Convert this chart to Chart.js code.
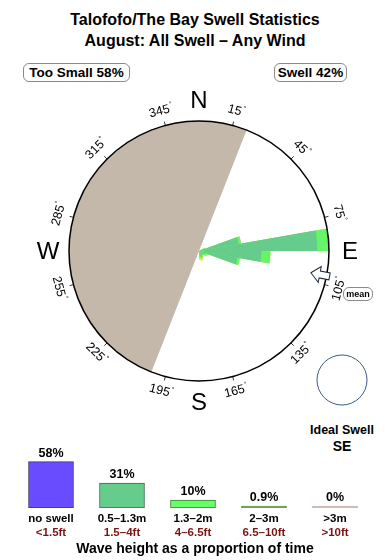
<!DOCTYPE html>
<html>
<head>
<meta charset="utf-8">
<script src="https://cdn.jsdelivr.net/npm/chart.js@4"></script>
<style>
  body { margin: 0; background: #fff; font-family: "Liberation Sans", Arial, sans-serif; }
  .page { position: relative; width: 390px; height: 560px; overflow: hidden; }
  .abs { position: absolute; }
  .title { left: 0; top: 9px; width: 390px; text-align: center; font-weight: bold; font-size: 16px; line-height: 21px; }
  .pill { border: 1px solid #8a8a8a; border-radius: 6px; font-weight: bold; font-size: 13.5px; line-height: 17px; text-align: center; }
  .small { font-weight: bold; text-align: center; }
  canvas { position: absolute; left: 0; }
</style>
</head>
<body>
<div class="page">
  <div class="abs title">Talofofo/The Bay Swell Statistics<br>August: All Swell – Any Wind</div>
  <div class="abs pill" style="left:23px; top:63px; width:105px;">Too Small 58%</div>
  <div class="abs pill" style="left:274px; top:63px; width:71px;">Swell 42%</div>
  <canvas id="rose" width="390" height="340" style="top:81px;"></canvas>
  <div class="abs pill" style="left:343px; top:287px; width:28px; font-size:9px; line-height:12px;">mean</div>
  <div class="abs small" style="left:295px; top:423px; width:94px; font-size:12.5px;">Ideal Swell</div>
  <div class="abs small" style="left:295px; top:438px; width:94px; font-size:14px;">SE</div>
  <canvas id="bands" width="390" height="120" style="top:440px;"></canvas>
  <div class="abs small" style="left:0; top:540px; width:390px; font-size:14px;">Wave height as a proportion of time</div>
</div>
<script>
// Direction bins (10 degree sectors, starting at north)
const directionBins = Array.from({ length: 36 }, (_, i) => (i * 10) + '°');

// Share of each sector per wave height band (fraction of largest sector)
const swell05to13 = [0, 0, 0, 0, 0, 0, 0.03, 0.31, 0.91, 0.48, 0.30, 0.05, 0.04, 0.03, 0.04, 0.05, 0.04, 0.03,
                     0, 0, 0, 0, 0, 0, 0, 0, 0, 0, 0, 0, 0, 0, 0, 0, 0, 0];
const swell13to2  = [0, 0, 0, 0, 0, 0, 0.02, 0.02, 0.09, 0.07, 0.02, 0.02, 0.02, 0.01, 0.01, 0.01, 0.02, 0.02,
                     0, 0, 0, 0, 0, 0, 0, 0, 0, 0, 0, 0, 0, 0, 0, 0, 0, 0];
const swell2to3   = [0, 0, 0, 0, 0, 0, 0, 0, 0, 0, 0, 0.01, 0.01, 0.01, 0.01, 0.01, 0.02, 0.02,
                     0, 0, 0, 0, 0, 0, 0, 0, 0, 0, 0, 0, 0, 0, 0, 0, 0, 0];

// "Too small" half of the rose (bearings)
const tooSmallFrom = 201.5;
const tooSmallTo = 21.5;
const meanDirection = 101;
const tickBearings = [15, 45, 75, 105, 135, 165, 195, 225, 255, 285, 315, 345];
const compassPoints = ['N', 'E', 'S', 'W'];

// Wave height legend
const heightBands = ['no swell', '0.5–1.3m', '1.3–2m', '2–3m', '>3m'];
const heightBandsFt = ['<1.5ft', '1.5–4ft', '4–6.5ft', '6.5–10ft', '>10ft'];
const bandShares = [58, 31, 10, 0.9, 0];

const FONT = '"Liberation Sans", Arial, sans-serif';
const ROSE_TOP = 81;

// stacked radii: inner band first
const ring1 = swell05to13.slice();
const ring2 = ring1.map((v, i) => v + swell13to2[i]);
const ring3 = ring2.map((v, i) => v + swell2to3[i]);
const wedgeAngles = [tooSmallTo, tooSmallFrom - tooSmallTo, 360 - tooSmallFrom];

const compassPlugin = {
    id: 'compass',
    afterDatasetsDraw(chart) {
        const ctx = chart.ctx;
        const s = chart.scales.r;
        const cx = s.xCenter, cy = s.yCenter, R = s.drawingArea;
        const pt = (b, rad) => {
            const a = b * Math.PI / 180;
            return [cx + Math.sin(a) * rad, cy - Math.cos(a) * rad];
        };
        ctx.save();
        ctx.strokeStyle = '#000';
        ctx.lineWidth = 1.5;
        ctx.beginPath();
        ctx.arc(cx, cy, R, 0, Math.PI * 2);
        ctx.stroke();

        // ticks and degree labels
        ctx.lineWidth = 0.8;
        ctx.fillStyle = '#000';
        ctx.textAlign = 'center';
        ctx.textBaseline = 'middle';
        tickBearings.forEach(b => {
            const [x1, y1] = pt(b, R);
            const [x2, y2] = pt(b, R + 4);
            ctx.beginPath();
            ctx.moveTo(x1, y1);
            ctx.lineTo(x2, y2);
            ctx.stroke();
            const [lx, ly] = pt(b, R + 15);
            let rot = (b > 90 && b < 270) ? b - 180 : (b >= 270 ? b - 360 : b);
            ctx.save();
            ctx.translate(lx, ly);
            ctx.rotate(rot * Math.PI / 180);
            ctx.font = '12.5px ' + FONT;
            const w = ctx.measureText(String(b)).width;
            ctx.fillText(String(b), -2, 0);
            ctx.font = '7px ' + FONT;
            ctx.fillText('°', w / 2, -4);
            ctx.restore();
        });

        // compass letters
        ctx.font = '24px ' + FONT;
        compassPoints.forEach((p, i) => {
            const [x, y] = pt(i * 90, R + 21);
            ctx.fillText(p, x, y + 1);
        });

        // mean direction arrow (pointing at the centre)
        const a = meanDirection * Math.PI / 180;
        const [tx, ty] = pt(meanDirection, R - 16);
        ctx.save();
        ctx.translate(tx, ty);
        ctx.rotate(a - Math.PI / 2);
        ctx.beginPath();
        ctx.moveTo(0, 0);
        ctx.lineTo(9, -8);
        ctx.lineTo(9, -3.5);
        ctx.lineTo(19, -3.5);
        ctx.lineTo(19, 3.5);
        ctx.lineTo(9, 3.5);
        ctx.lineTo(9, 8);
        ctx.closePath();
        ctx.fillStyle = '#fff';
        ctx.fill();
        ctx.strokeStyle = '#1a2a3a';
        ctx.lineWidth = 1;
        ctx.stroke();
        ctx.restore();

        // ideal swell marker
        ctx.beginPath();
        ctx.arc(342, 380 - ROSE_TOP, 25, 0, Math.PI * 2);
        ctx.strokeStyle = '#3a5a86';
        ctx.lineWidth = 1;
        ctx.stroke();
        ctx.restore();
    }
};

new Chart(document.getElementById('rose'), {
    type: 'polarArea',
    data: {
        labels: directionBins,
        datasets: [
            { label: '0.5–1.3m', data: ring1, backgroundColor: '#66cc8c', borderWidth: 0 },
            { label: '1.3–2m', data: ring2, backgroundColor: '#66f566', borderWidth: 0 },
            { label: '2–3m', data: ring3, backgroundColor: '#e6e63a', borderWidth: 0 },
            {
                label: 'Too small',
                data: [1, 0, 1],
                angle: ctx => wedgeAngles[ctx.dataIndex],
                backgroundColor: '#c4b8aa',
                borderWidth: 0
            }
        ]
    },
    options: {
        responsive: false,
        animation: false,
        layout: { padding: { left: 8, right: 0, top: 40, bottom: 40 } },
        plugins: { legend: { display: false }, tooltip: { enabled: false } },
        scales: {
            r: { display: false, min: 0, max: 1, startAngle: 0 }
        }
    },
    plugins: [compassPlugin]
});

const bandLabels = {
    id: 'bandLabels',
    afterDatasetsDraw(chart) {
        const ctx = chart.ctx;
        const bars = chart.getDatasetMeta(0).data;
        ctx.save();
        ctx.textAlign = 'center';
        bars.forEach((bar, i) => {
            ctx.fillStyle = '#000';
            ctx.textBaseline = 'alphabetic';
            ctx.font = 'bold 12.5px ' + FONT;
            ctx.fillText(bandShares[i] + '%', bar.x, bar.y - 5);
            ctx.textBaseline = 'middle';
            ctx.font = 'bold 11.5px ' + FONT;
            ctx.fillText(heightBands[i], bar.x, 79);
            ctx.fillStyle = '#7a1414';
            ctx.fillText(heightBandsFt[i], bar.x, 93);
        });
        ctx.restore();
    }
};

new Chart(document.getElementById('bands'), {
    type: 'bar',
    data: {
        labels: heightBands,
        datasets: [{
            data: bandShares,
            backgroundColor: ['#6a4cff', '#66cc8c', '#66ff66', '#5e8a3a', '#c4b0a6'],
            borderColor: ['#3a3a66', '#3c6e4c', '#3c7a3c', '#5e8a3a', '#c4b0a6'],
            borderWidth: 1,
            borderSkipped: false,
            barThickness: 45,
            minBarLength: 2
        }]
    },
    options: {
        responsive: false,
        animation: false,
        layout: { padding: { left: 15.5, right: 19.5, top: 20, bottom: 52 } },
        plugins: { legend: { display: false }, tooltip: { enabled: false } },
        scales: {
            x: { display: false },
            y: { display: false, min: 0, max: 60 }
        }
    },
    plugins: [bandLabels]
});
</script>
</body>
</html>
